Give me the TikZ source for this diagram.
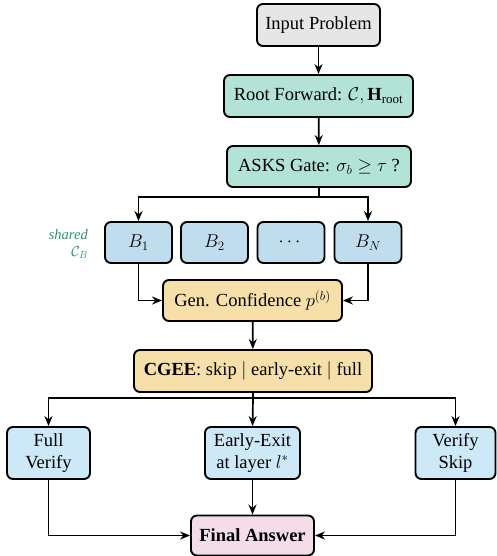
\RequirePackage{fix-cm}
\documentclass[tikz,border=0pt]{standalone}
\usepackage{amsmath}
\usepackage{fontspec}
\setmainfont{Liberation Serif}
\usetikzlibrary{arrows.meta}
\definecolor{cgray}{HTML}{E6E6E6}
\definecolor{cteal}{HTML}{B3E3D6}
\definecolor{cblue}{HTML}{C0DDED}
\definecolor{clblue}{HTML}{CDE8F7}
\definecolor{corange}{HTML}{F6DFA8}
\definecolor{cpink}{HTML}{F2DDE8}
\definecolor{cgreen}{HTML}{2A9070}
\tikzset{
  box/.style={draw=black, line width=1.9pt, rounded corners=6pt, inner sep=0pt, align=center, font=\fontsize{18.5}{22}\selectfont},
  arr/.style={line width=1.7pt, -{Stealth[length=10pt,width=8pt]}},
}
\begin{document}
\begin{tikzpicture}[x=1pt,y=1pt]
\useasboundingbox (0,0) rectangle (496,-556);
\node[box, fill=cgray, minimum width=123pt, minimum height=42pt] (in) at (318.5,-25) {Input Problem};
\node[box, fill=cteal, minimum width=189pt, minimum height=42pt] (root) at (318.5,-96) {Root Forward: $\mathcal{C}, \mathbf{H}_{\text{root}}$};
\node[box, fill=cteal, minimum width=184pt, minimum height=41pt] (asks) at (319,-166.5) {ASKS Gate: $\sigma_b \geq \tau$ ?};
\node[box, fill=cblue, minimum width=67pt, minimum height=41pt] (b1) at (138.5,-242.5) {$B_1$};
\node[box, fill=cblue, minimum width=67pt, minimum height=41pt] (b2) at (214.5,-242.5) {$B_2$};
\node[box, fill=cblue, minimum width=67pt, minimum height=41pt] (bd) at (291,-242.5) {$\cdots$};
\node[box, fill=cblue, minimum width=67pt, minimum height=41pt] (bn) at (368,-242.5) {$B_N$};
\node[align=right, anchor=east, text=cgreen, inner sep=0pt, font=\fontsize{14.5}{17}\selectfont] (shared) at (88,-244) {\textit{shared}\\$\mathcal{C}_B$};
\node[box, fill=corange, minimum width=179pt, minimum height=41pt] (gen) at (252.5,-300.5) {Gen. Confidence $p^{(b)}$};
\node[box, fill=corange, minimum width=238pt, minimum height=42pt] (cgee) at (253,-371) {\textbf{CGEE}: skip $|$ early-exit $|$ full};
\node[box, fill=clblue, minimum width=83pt, minimum height=52pt] (full) at (48.5,-453) {Full\\Verify};
\node[box, fill=clblue, minimum width=95pt, minimum height=52pt] (early) at (252.5,-453) {Early-Exit\\at layer $l^{*}$};
\node[box, fill=clblue, minimum width=80pt, minimum height=52pt] (skip) at (455.5,-453) {Verify\\Skip};
\node[box, fill=cpink, minimum width=123pt, minimum height=40pt] (final) at (252.5,-535.5) {\textbf{Final Answer}};
\draw[arr] (in) -- (root);
\draw[arr] (root) -- (asks);
\coordinate (split1) at (319,-197);
\draw[arr] (asks.south) -- (split1) -| (b1.north);
\draw[arr] (split1) -| (bn.north);
\draw[arr] (b1.south) |- (gen.west);
\draw[arr] (bn.south) |- (gen.east);
\draw[arr] (gen) -- (cgee);
\coordinate (split2) at (253,-398);
\draw[arr] (cgee.south) -- (split2) -| (full.north);
\draw[arr] (split2) -| (skip.north);
\draw[arr] (split2) -- (early.north);
\draw[arr] (early) -- (final);
\draw[arr] (full.south) |- (final.west);
\draw[arr] (skip.south) |- (final.east);
\end{tikzpicture}
\end{document}
